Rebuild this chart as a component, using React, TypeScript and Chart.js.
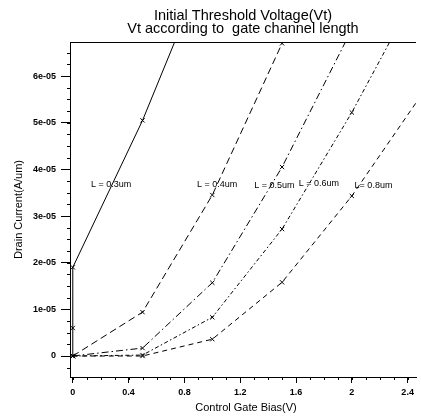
import React, { useEffect, useRef } from "react";
import { Chart, registerables } from "chart.js";

Chart.register(...registerables);

const titleLines = ["Initial Threshold Voltage(Vt)", "Vt according to  gate channel length"];
const xAxisTitle = "Control Gate Bias(V)";
const yAxisTitle = "Drain Current(A/um)";

const xTickValues = [0, 0.4, 0.8, 1.2, 1.6, 2, 2.4];
const xTickLabels = ["0", "0.4", "0.8", "1.2", "1.6", "2", "2.4"];
const yTickValues = [0, 1e-5, 2e-5, 3e-5, 4e-5, 5e-5, 6e-5];
const yTickLabels = ["0", "1e-05", "2e-05", "3e-05", "4e-05", "5e-05", "6e-05"];
const xMinorStep = 0.1;
const yMinorStep = 0.25e-5;

const seriesNames = ["L = 0.3um", "L = 0.4um", "L = 0.5um", "L = 0.6um", "L= 0.8um"];

const l03X = [0, 0, 0, 0.5, 1.0];
const l03Y = [0, 0.6e-5, 1.9e-5, 5.05e-5, 8.7e-5];
const l04X = [0, 0.5, 1.0, 1.5, 2.0];
const l04Y = [0, 0.94e-5, 3.45e-5, 6.7e-5, 10.5e-5];
const l05X = [0, 0.5, 1.0, 1.5, 2.0];
const l05Y = [0, 0.17e-5, 1.57e-5, 4.05e-5, 7.0e-5];
const l06X = [0, 0.5, 1.0, 1.5, 2.0, 2.5];
const l06Y = [0, 0.02e-5, 0.83e-5, 2.72e-5, 5.22e-5, 8.0e-5];
const l08X = [0, 0.5, 1.0, 1.5, 2.0, 2.5];
const l08Y = [0, 0, 0.36e-5, 1.58e-5, 3.43e-5, 5.6e-5];

const labelX = [0.13, 0.89, 1.3, 1.62, 2.02];
const labelY = [3.68e-5, 3.68e-5, 3.66e-5, 3.7e-5, 3.66e-5];

const dashes = [[], [7, 4], [7, 3, 1.5, 3], [4, 2.5, 1.5, 2.5], [5, 4]];

const FONT = "'Liberation Sans', Arial, Helvetica, sans-serif";

function pts(xs: number[], ys: number[]) {
  return xs.map((x, i) => ({ x, y: ys[i] }));
}

const decorPlugin = {
  id: "decor",
  afterDraw(chart: any) {
    const { ctx, chartArea, scales } = chart;
    const xs = scales.x;
    const ys = scales.y;
    ctx.save();
    ctx.strokeStyle = "#000";
    ctx.fillStyle = "#000";
    ctx.lineWidth = 1;
    ctx.beginPath();
    ctx.moveTo(chartArea.left, chartArea.top + 0.5);
    ctx.lineTo(chartArea.right, chartArea.top + 0.5);
    ctx.stroke();
    ctx.beginPath();
    for (let v = 0; v <= 2.45; v += xMinorStep) {
      const px = Math.round(xs.getPixelForValue(v)) + 0.5;
      ctx.moveTo(px, chartArea.bottom);
      ctx.lineTo(px, chartArea.bottom + 3);
    }
    for (let v = -0.25e-5; v <= 6.6e-5; v += yMinorStep) {
      const py = Math.round(ys.getPixelForValue(v)) + 0.5;
      ctx.moveTo(chartArea.left, py);
      ctx.lineTo(chartArea.left - 3, py);
    }
    ctx.stroke();
    ctx.font = `9px ${FONT}`;
    ctx.textAlign = "left";
    ctx.textBaseline = "middle";
    seriesNames.forEach((n, i) => {
      ctx.fillText(n, xs.getPixelForValue(labelX[i]), ys.getPixelForValue(labelY[i]));
    });
    const cx = (chartArea.left + chartArea.right) / 2;
    ctx.textAlign = "center";
    ctx.font = `14.5px ${FONT}`;
    ctx.fillText(titleLines[0], cx, 16);
    ctx.fillText(titleLines[1], cx, 29);
    ctx.font = `11px ${FONT}`;
    ctx.fillText(xAxisTitle, cx + 3, 408);
    ctx.save();
    ctx.translate(19, (chartArea.top + chartArea.bottom) / 2);
    ctx.rotate(-Math.PI / 2);
    ctx.fillText(yAxisTitle, 0, 0);
    ctx.restore();
    ctx.restore();
  },
};

export default function App() {
  const ref = useRef<HTMLCanvasElement>(null);
  useEffect(() => {
    if (!ref.current) return;
    const xsArr = [l03X, l04X, l05X, l06X, l08X];
    const ysArr = [l03Y, l04Y, l05Y, l06Y, l08Y];
    const chart = new Chart(ref.current, {
      type: "scatter",
      data: {
        datasets: seriesNames.map((n, i) => ({
          label: n,
          data: pts(xsArr[i], ysArr[i]),
          showLine: true,
          borderColor: "#000",
          backgroundColor: "#000",
          borderWidth: 1,
          borderDash: dashes[i],
          pointStyle: "crossRot",
          pointRadius: 3,
          pointBorderWidth: 1,
          pointBorderColor: "#000",
          tension: 0,
        })),
      },
      options: {
        responsive: false,
        animation: false,
        layout: { padding: { top: 42, left: 0, right: 0, bottom: 0 } },
        plugins: { legend: { display: false }, title: { display: false }, tooltip: { enabled: false } },
        scales: {
          x: {
            type: "linear",
            min: -0.02,
            max: 2.46,
            afterBuildTicks: (s: any) => {
              s.ticks = xTickValues.map((v) => ({ value: v }));
            },
            afterFit: (s: any) => {
              s.height = 43;
            },
            grid: { drawOnChartArea: false, drawTicks: true, tickLength: 6, color: "#000", lineWidth: 1 },
            border: { display: true, color: "#000", width: 1 },
            ticks: {
              color: "#000",
              font: { family: FONT, size: 9, weight: "bold" },
              padding: 4,
              maxRotation: 0,
              autoSkip: false,
              callback: (v: any) => {
                const i = xTickValues.findIndex((t) => Math.abs(t - v) < 1e-9);
                return i >= 0 ? xTickLabels[i] : "";
              },
            },
          },
          y: {
            type: "linear",
            min: -0.45e-5,
            max: 6.73e-5,
            afterBuildTicks: (s: any) => {
              s.ticks = yTickValues.map((v) => ({ value: v }));
            },
            afterFit: (s: any) => {
              s.width = 70;
            },
            grid: { drawOnChartArea: false, drawTicks: true, tickLength: 9, color: "#000", lineWidth: 1 },
            border: { display: true, color: "#000", width: 1 },
            ticks: {
              color: "#000",
              font: { family: FONT, size: 9, weight: "bold" },
              padding: 5,
              autoSkip: false,
              callback: (v: any) => {
                const i = yTickValues.findIndex((t) => Math.abs(t - v) < 1e-12);
                return i >= 0 ? yTickLabels[i] : "";
              },
            },
          },
        },
      },
      plugins: [decorPlugin],
    });
    return () => chart.destroy();
  }, []);
  return (
    <div style={{ position: "fixed", left: 0, top: 0, width: 421, height: 420, background: "#fff" }}>
      <canvas ref={ref} width={421} height={420} style={{ display: "block" }} />
    </div>
  );
}
